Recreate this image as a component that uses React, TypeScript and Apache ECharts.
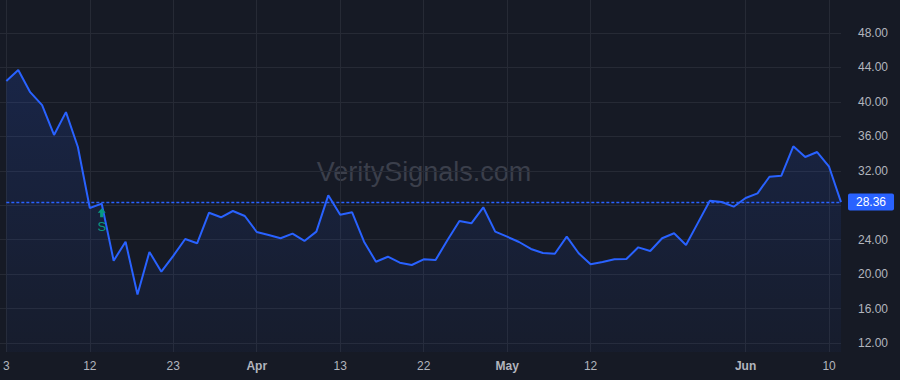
import React, { useEffect, useRef } from "react";
import * as echarts from "echarts";

const dates = [
  "2026-03-03", "2026-03-04", "2026-03-05", "2026-03-06", "2026-03-09", "2026-03-10", "2026-03-11",
  "2026-03-12", "2026-03-13", "2026-03-16", "2026-03-17", "2026-03-18", "2026-03-19", "2026-03-20",
  "2026-03-23", "2026-03-24", "2026-03-25", "2026-03-26", "2026-03-27", "2026-03-30", "2026-03-31",
  "2026-04-01", "2026-04-02", "2026-04-06", "2026-04-07", "2026-04-08", "2026-04-09", "2026-04-10",
  "2026-04-13", "2026-04-14", "2026-04-15", "2026-04-16", "2026-04-17", "2026-04-20", "2026-04-21",
  "2026-04-22", "2026-04-23", "2026-04-24", "2026-04-27", "2026-04-28", "2026-04-29", "2026-04-30",
  "2026-05-01", "2026-05-04", "2026-05-05", "2026-05-06", "2026-05-07", "2026-05-08", "2026-05-11",
  "2026-05-12", "2026-05-13", "2026-05-14", "2026-05-15", "2026-05-18", "2026-05-19", "2026-05-20",
  "2026-05-21", "2026-05-22", "2026-05-26", "2026-05-27", "2026-05-28", "2026-05-29", "2026-06-01",
  "2026-06-02", "2026-06-03", "2026-06-04", "2026-06-05", "2026-06-08", "2026-06-09", "2026-06-10",
  "2026-06-11",
];

const prices = [
  42.43, 43.7, 41.13, 39.62, 36.16, 38.81, 34.76, 27.68, 28.18, 21.56, 23.75, 17.63, 22.58, 20.28,
  22.12, 24.08, 23.58, 27.13, 26.6, 27.33, 26.75, 24.89, 24.54, 24.16, 24.7, 23.85, 24.93, 29.15,
  26.9, 27.18, 23.76, 21.44, 22.02, 21.33, 21.06, 21.72, 21.64, 23.96, 26.17, 25.9, 27.76, 24.93,
  24.35, 23.73, 22.92, 22.45, 22.37, 24.35, 22.42, 21.14, 21.41, 21.72, 21.75, 23.11, 22.68, 24.16,
  24.74, 23.38, 25.95, 28.53, 28.37, 27.83, 28.84, 29.38, 31.31, 31.43, 34.84, 33.6, 34.18, 32.47,
  28.36,
];

const tickDates = [
  "2026-03-03", "2026-03-12", "2026-03-23", "2026-04-01", "2026-04-13",
  "2026-04-22", "2026-05-01", "2026-05-12", "2026-06-01", "2026-06-10",
];
const tickTexts = ["3", "12", "23", "Apr", "13", "22", "May", "12", "Jun", "10"];
const monthTexts = ["Apr", "May", "Jun"];

const signalDate = "2026-03-13";
const signalText = "S";
const watermark = "VeritySignals.com";

const FONT = '"Liberation Sans", Arial, sans-serif';
const BG = "#161a25";
const GRID = "#262a35";
const TEXT = "#b2b5be";
const BLUE = "#2962ff";
const GREEN = "#089981";

export default function App() {
  const ref = useRef<HTMLDivElement>(null);

  useEffect(() => {
    if (!ref.current) return;
    const chart = echarts.init(ref.current, undefined, { renderer: "svg" });
    const last = prices[prices.length - 1];
    const sigIdx = dates.indexOf(signalDate);
    const showTick = (_i: number, v: string) => tickDates.includes(v);

    chart.setOption({
      animation: false,
      backgroundColor: BG,
      textStyle: { fontFamily: FONT },
      grid: [
        { left: 5, right: 59, top: 0, bottom: 28 },
        { left: 0, right: 59, top: 33, bottom: 37 },
      ],
      xAxis: [
        {
          type: "category",
          gridIndex: 0,
          data: dates,
          boundaryGap: false,
          axisLine: { show: false },
          axisTick: { show: false },
          splitLine: { show: true, interval: showTick, lineStyle: { color: GRID, width: 1 } },
          axisLabel: {
            interval: showTick,
            margin: 8,
            color: TEXT,
            fontSize: 12,
            fontFamily: FONT,
            formatter: (v: string) => {
              const t = tickTexts[tickDates.indexOf(v)];
              return monthTexts.includes(t) ? `{m|${t}}` : t;
            },
            rich: { m: { fontWeight: "bold", color: TEXT, fontSize: 12, fontFamily: FONT } },
          },
        },
        { type: "value", gridIndex: 1, show: false, min: 0, max: 1 },
      ],
      yAxis: [
        {
          type: "value",
          gridIndex: 0,
          show: false,
          min: 12 - 9 / (310 / 36),
          max: 48 + 33 / (310 / 36),
          splitLine: { show: false },
        },
        {
          type: "value",
          gridIndex: 1,
          position: "right",
          min: 12,
          max: 48,
          interval: 4,
          axisLine: { show: false },
          axisTick: { show: true, length: 7, inside: false, lineStyle: { color: GRID } },
          splitLine: { show: true, lineStyle: { color: GRID, width: 1 } },
          axisLabel: {
            margin: 17,
            color: TEXT,
            fontSize: 12,
            fontFamily: FONT,
            formatter: (v: number) => (Math.abs(v - last) < 1.5 ? "" : v.toFixed(2)),
          },
        },
      ],
      graphic: [
        {
          type: "text",
          x: 424,
          y: 172,
          z: 0,
          silent: true,
          style: {
            text: watermark,
            font: `27px ${FONT}`,
            fill: "#3b3f4b",
            align: "center",
            verticalAlign: "middle",
          },
        },
      ],
      series: [
        {
          type: "line",
          xAxisIndex: 0,
          yAxisIndex: 0,
          data: prices,
          symbol: "none",
          lineStyle: { color: BLUE, width: 2 },
          areaStyle: {
            origin: "start",
            color: new echarts.graphic.LinearGradient(0, 0, 0, 1, [
              { offset: 0, color: "rgba(41,98,255,0.22)" },
              { offset: 1, color: "rgba(41,98,255,0.05)" },
            ]),
          },
          markLine: {
            silent: true,
            symbol: "none",
            lineStyle: { color: BLUE, type: [3, 2], width: 1.3 },
            label: {
              show: true,
              position: "end",
              distance: 7,
              formatter: () => last.toFixed(2),
              color: "#ffffff",
              backgroundColor: BLUE,
              fontSize: 12,
              fontFamily: FONT,
              padding: [2, 8, 2, 8],
              lineHeight: 13,
              borderRadius: 2,
            },
            data: [{ yAxis: last }],
          },
          markPoint: {
            silent: true,
            data: [
              {
                coord: [sigIdx, prices[sigIdx]],
                symbol: "path://M4 0 L8 4.5 L5.6 4.5 L5.6 9 L2.4 9 L2.4 4.5 L0 4.5 Z",
                symbolSize: [8, 9],
                symbolOffset: [0, 9],
                itemStyle: { color: GREEN },
                label: {
                  show: true,
                  position: "bottom",
                  distance: 3,
                  formatter: signalText,
                  color: GREEN,
                  fontSize: 13,
                  fontFamily: FONT,
                },
              },
            ],
          },
        },
      ],
    });
    return () => chart.dispose();
  }, []);

  return <div ref={ref} style={{ width: 900, height: 380, position: "absolute", left: 0, top: 0 }} />;
}
